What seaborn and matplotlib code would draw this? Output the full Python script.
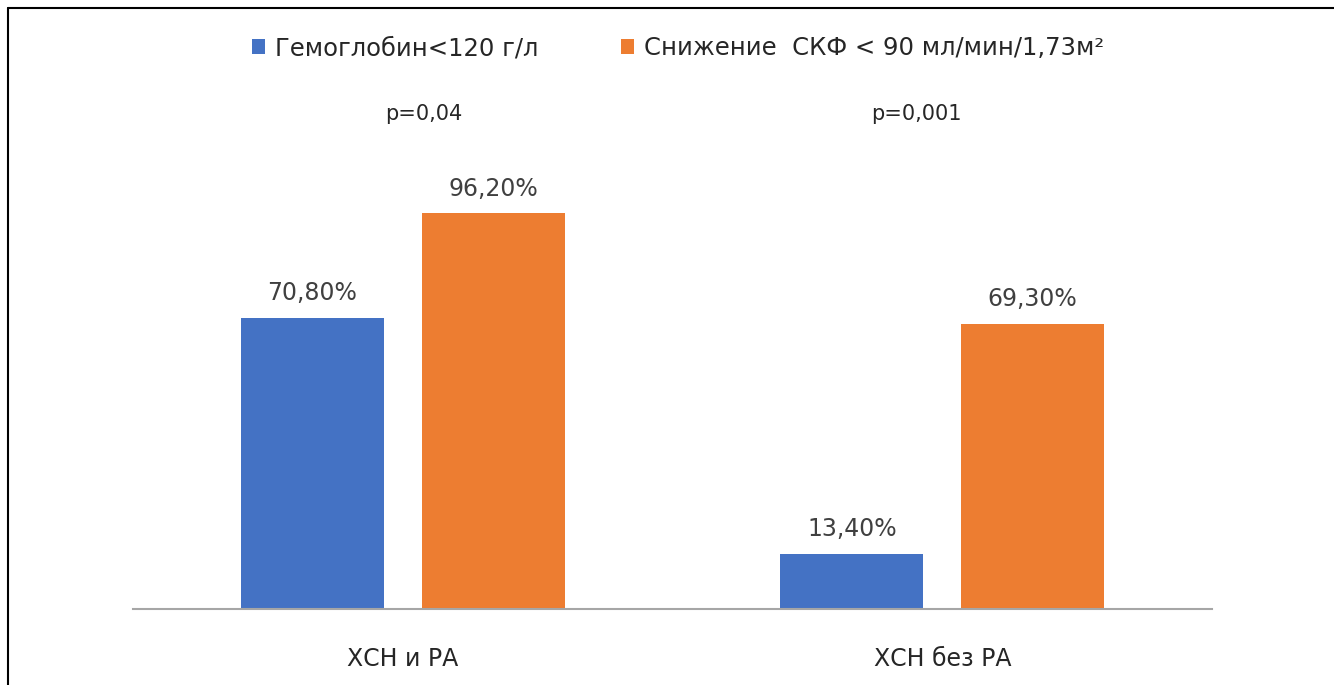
import matplotlib
matplotlib.use("Agg")
import matplotlib.pyplot as plt
import seaborn as sns
import pandas as pd
from matplotlib.lines import Line2D

categories = ["ХСН и РА", "ХСН без РА"]
series = ["Гемоглобин<120 г/л", "Снижение  СКФ < 90 мл/мин/1,73м²"]
hemoglobin = [70.8, 13.4]
gfr = [96.2, 69.3]
p_values = ["p=0,04", "p=0,001"]

df = pd.DataFrame({
    "cat": categories * 2,
    "series": [series[0]] * 2 + [series[1]] * 2,
    "value": hemoglobin + gfr,
})

sns.set_theme(style="white")
plt.rcParams["font.family"] = ["DejaVu Sans"]

W, H = 1334, 685
fig = plt.figure(figsize=(W / 100, H / 100), dpi=100)
ax = fig.add_axes([133 / W, (H - 609) / H, (1212 - 133) / W, 110 * 4.116 / H])

sns.barplot(data=df, x="cat", y="value", hue="series", order=categories,
            hue_order=series, palette=["#4472C4", "#ED7D31"],
            width=0.67, gap=0.21, ax=ax, saturation=1, legend=True, linewidth=0)

ax.set_ylim(0, 110)
ax.set_xlim(-0.5, 1.5)
ax.set_xlabel("")
ax.set_ylabel("")
ax.set_yticks([])
for s in ["top", "right", "left"]:
    ax.spines[s].set_visible(False)
ax.spines["bottom"].set_color("#A6A6A6")
ax.spines["bottom"].set_linewidth(1.5)
ax.tick_params(axis="x", length=0, pad=27, labelsize=17, labelcolor="#262626")

for cont in ax.containers:
    ax.bar_label(cont, labels=[f"{v:.2f}%".replace(".", ",") for v in cont.datavalues],
                 padding=9, fontsize=17, color="#404040")

p_x = [424, 916]
for px, p in zip(p_x, p_values):
    fig.text(px / W, 1 - 114 / H, p, ha="center", va="center", fontsize=15, color="#262626")

sns.move_legend(ax, "center", bbox_to_anchor=(678 / W, 1 - 48 / H), bbox_transform=fig.transFigure,
                ncol=2, frameon=False, title=None, fontsize=17.5, handlelength=0.55,
                handleheight=0.55, handletextpad=0.4, columnspacing=3.4)
for t in ax.get_legend().get_texts():
    t.set_color("#262626")

fig.add_artist(Line2D([8 / W, 1], [1 - 8 / H, 1 - 8 / H], transform=fig.transFigure, color="black", lw=1.5))
fig.add_artist(Line2D([8 / W, 8 / W], [0, 1 - 8 / H], transform=fig.transFigure, color="black", lw=1.5))

fig.savefig("out.png", dpi=100)
